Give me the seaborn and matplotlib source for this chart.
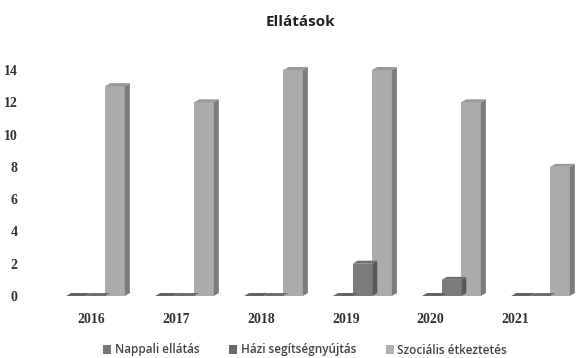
import matplotlib
matplotlib.use("Agg")
import matplotlib.pyplot as plt
import seaborn as sns
import pandas as pd
from matplotlib.patches import Polygon, Patch
from matplotlib.transforms import IdentityTransform, ScaledTranslation
import matplotlib.colors as mcolors

years = ["2016", "2017", "2018", "2019", "2020", "2021"]
series = ["Nappali ellátás", "Házi segítségnyújtás", "Szociális étkeztetés"]
nappali = [0, 0, 0, 0, 0, 0]
hazi = [0, 0, 0, 2, 1, 0]
szocialis = [13, 12, 14, 14, 12, 8]
yticks = [0, 2, 4, 6, 8, 10, 12, 14]

colors = ["#707070", "#7b7b7b", "#ababab"]

rows = []
for name, vals in zip(series, [nappali, hazi, szocialis]):
    for y, v in zip(years, vals):
        rows.append({"Év": y, "Ellátás": name, "Érték": v})
df = pd.DataFrame(rows)

sns.set_style("white")
fig = plt.figure(figsize=(5.76, 3.58), dpi=100)
ax = fig.add_axes([51 / 576, 62 / 358, 534 / 576, 226 / 358])

sns.barplot(data=df, x="Év", y="Érték", hue="Ellátás", hue_order=series,
            order=years, palette=colors, width=0.66, saturation=1,
            edgecolor="none", linewidth=0, legend=False, ax=ax)

ax.set_ylim(0, 14)
ax.set_xlim(-0.5, 5.5)
ax.set_yticks(yticks)
ax.set_xlabel("")
ax.set_ylabel("")
for s in ax.spines.values():
    s.set_visible(False)
ax.tick_params(axis="y", length=0, pad=24)
ax.tick_params(axis="x", length=0, pad=12)
for lab in ax.get_yticklabels() + ax.get_xticklabels():
    lab.set_fontfamily("Liberation Serif")
    lab.set_fontweight("bold")
    lab.set_fontsize(10)
    lab.set_color("#333333")
# perspective: year labels sit slightly left of the bar groups
for i, lab in enumerate(ax.get_xticklabels()):
    shift = -(3 + 3 * i) / 72
    lab.set_transform(lab.get_transform() + ScaledTranslation(shift, 0, fig.dpi_scale_trans))

# 3D-like faces derived from the bar patches
fig.canvas.draw()
dx, dy = 5, 3
for patch in list(ax.patches):
    fc = mcolors.to_rgb(patch.get_facecolor())
    x0, y0 = patch.get_x(), patch.get_y()
    x1, y1 = x0 + patch.get_width(), y0 + patch.get_height()
    (px0, py0) = ax.transData.transform((x0, y0))
    (px1, py1) = ax.transData.transform((x1, y1))
    side = [(px1, py0), (px1 + dx, py0 + dy), (px1 + dx, py1 + dy), (px1, py1)]
    top = [(px0, py1), (px1, py1), (px1 + dx, py1 + dy), (px0 + dx, py1 + dy)]
    dark = tuple(c * 0.72 for c in fc)
    light = tuple(min(1, c * 0.9) for c in fc)
    ax.add_patch(Polygon(side, closed=True, transform=IdentityTransform(),
                         facecolor=dark, edgecolor="none", clip_on=False))
    ax.add_patch(Polygon(top, closed=True, transform=IdentityTransform(),
                         facecolor=light, edgecolor="none", clip_on=False))

fig.text(300 / 576, 1 - 22 / 358, "Ellátások", ha="center", va="center",
         fontsize=11, fontweight="bold", color="#222222", family="Open Sans")

legend_colors = ["#777777", "#6a6a6a", "#b2b2b2"]
handles = [Patch(facecolor=c, edgecolor="none") for c in legend_colors]
leg = fig.legend(handles, series, loc="center", bbox_to_anchor=(305 / 576, 1 - 350 / 358),
                 ncol=3, frameon=False, handlelength=0.7, handleheight=0.7,
                 handletextpad=0.3, columnspacing=2.5,
                 prop={"family": "Open Sans", "size": 8.5, "weight": "semibold"})
for t in leg.get_texts():
    t.set_color("#444444")

fig.savefig("out.png", dpi=100)
